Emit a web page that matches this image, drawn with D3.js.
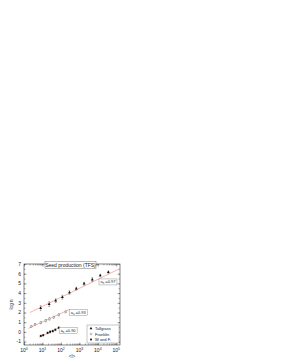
<!DOCTYPE html>
<html>
<head>
<meta charset="utf-8">
<script src="https://cdn.jsdelivr.net/npm/d3@7"></script>
<style>
  body { margin: 0; background: #fff; }
  text { font-family: "Liberation Sans", Arial, sans-serif; fill: #222; }
</style>
</head>
<body>
<svg width="281" height="364"></svg>
<script>
// series data
var tallX = [8, 23, 52, 120, 290, 680, 1800, 5000, 13500, 37000];
var tallY = [2.45, 2.87, 3.22, 3.57, 4.06, 4.45, 4.97, 5.39, 5.81, 6.16];
var tallE = [0.25, 0.25, 0.2, 0.2, 0.18, 0.15, 0.15, 0.2, 0.12, 0.12];

var frankX = [2.5, 4, 8.1, 15, 24, 41, 76, 180];
var frankY = [0.57, 0.78, 0.95, 1.16, 1.34, 1.51, 1.76, 2.07];
var frankE = [0.08, 0.08, 0.1, 0.12, 0.12, 0.1, 0.1, 0.08];

var wfX = [8.1, 11, 19, 26, 36, 50, 76];
var wfY = [-0.41, -0.34, -0.10, 0.01, 0.08, 0.22, 0.43];
var wfE = [0.08, 0.08, 0.1, 0.12, 0.1, 0.1, 0.08];

// fit lines: [x0, y0, x1, y1]
var fitTall = [2.1, 2.0, 158000, 6.53];
var fitFrank = [1.7, 0.36, 290, 2.31];
var fitWF = [6.8, -0.55, 91, 0.50];

var slopeLabels = ["0.97", "0.93", "0.90"];
var legendNames = ["Tallgrass", "Franklin", "W and F."];
var yTicks = [-1, 0, 1, 2, 3, 4, 5, 6, 7];
var xTicks = [1, 10, 100, 1000, 10000, 100000];

var svg = d3.select("svg");
var pl = 24, pr = 120, pt = 264, pb = 345;

var x = d3.scaleLog().domain([1, Math.pow(10, 5.2)]).range([pl, pr]);
var y = d3.scaleLinear().domain([-1.35, 7]).range([pb, pt]);

var g = svg.append("g");

// frame
g.append("rect").attr("x", pl).attr("y", pt)
  .attr("width", pr - pl).attr("height", pb - pt)
  .attr("fill", "none").attr("stroke", "#333").attr("stroke-width", 0.6);

// minor ticks for log axis
var minor = [];
for (var e = 0; e < 6; e++) {
  for (var k = 1; k < 10; k++) {
    var v = k * Math.pow(10, e);
    if (v <= x.domain()[1]) minor.push(v);
  }
}
var yMinor = d3.range(-1, 7, 0.5);
var axes = [
  [d3.axisBottom(x).tickValues(minor).tickSize(-1.5), 0, pb],
  [d3.axisBottom(x).tickValues(xTicks).tickSize(-2.5), 0, pb],
  [d3.axisTop(x).tickValues(minor).tickSize(-1.5), 0, pt],
  [d3.axisTop(x).tickValues(xTicks).tickSize(-2.5), 0, pt],
  [d3.axisLeft(y).tickValues(yTicks).tickSize(-2.5), pl, 0],
  [d3.axisLeft(y).tickValues(yMinor).tickSize(-1.5), pl, 0],
  [d3.axisRight(y).tickValues(yTicks).tickSize(-2.5), pr, 0],
  [d3.axisRight(y).tickValues(yMinor).tickSize(-1.5), pr, 0]
];
axes.forEach(function(a) {
  g.append("g").attr("transform", "translate(" + a[1] + "," + a[2] + ")")
    .call(a[0].tickFormat(""));
});
g.selectAll(".domain").remove();
g.selectAll(".tick line").attr("stroke", "#333").attr("stroke-width", 0.4);

// tick labels
g.selectAll(".ylab").data(yTicks).enter().append("text")
  .attr("x", pl - 3).attr("y", function(d) { return y(d) + 1.8; })
  .attr("text-anchor", "end").attr("font-size", 5).text(function(d) { return d; });

var xl = g.selectAll(".xlab").data(xTicks).enter().append("text")
  .attr("x", function(d) { return x(d); }).attr("y", pb + 7)
  .attr("text-anchor", "middle").attr("font-size", 5);
xl.append("tspan").text("10");
xl.append("tspan").attr("font-size", 3.5).attr("dy", -2)
  .text(function(d) { return Math.round(Math.log10(d)); });

svg.append("text").attr("x", (pl + pr) / 2).attr("y", pb + 12.5)
  .attr("text-anchor", "middle").attr("font-size", 4.5).text("<l>");
svg.append("text").attr("transform", "translate(13," + ((pt + pb) / 2) + ") rotate(-90)")
  .attr("text-anchor", "middle").attr("font-size", 4.5).text("log n");

// fit lines
[fitTall, fitFrank, fitWF].forEach(function(f) {
  g.append("line")
    .attr("x1", x(f[0])).attr("y1", y(f[1]))
    .attr("x2", x(Math.min(f[2], x.domain()[1]))).attr("y2", y(f[3]))
    .attr("stroke", "#f4a0a0").attr("stroke-width", 0.8);
});

// error bars + markers
function drawMarker(s, cx, cy, shape) {
  if (shape === "tri") {
    s.append("path").attr("d", d3.symbol(d3.symbolTriangle, 3.5)())
      .attr("transform", "translate(" + cx + "," + cy + ")").attr("fill", "#111");
  } else if (shape === "circ") {
    s.append("circle").attr("cx", cx).attr("cy", cy).attr("r", 0.9)
      .attr("fill", "#fff").attr("stroke", "#555").attr("stroke-width", 0.4);
  } else {
    s.append("rect").attr("x", cx - 0.9).attr("y", cy - 0.9)
      .attr("width", 1.8).attr("height", 1.8).attr("fill", "#111");
  }
}
function series(xs, ys, es, shape) {
  var s = g.append("g");
  xs.forEach(function(xv, i) {
    var cx = x(xv), yv = ys[i], er = es[i];
    s.append("line").attr("x1", cx).attr("x2", cx)
      .attr("y1", y(yv - er)).attr("y2", y(yv + er))
      .attr("stroke", "#333").attr("stroke-width", 0.35);
    [yv - er, yv + er].forEach(function(c) {
      s.append("line").attr("x1", cx - 0.9).attr("x2", cx + 0.9)
        .attr("y1", y(c)).attr("y2", y(c))
        .attr("stroke", "#333").attr("stroke-width", 0.35);
    });
    drawMarker(s, cx, y(yv), shape);
  });
}
series(tallX, tallY, tallE, "tri");
series(frankX, frankY, frankE, "circ");
series(wfX, wfY, wfE, "sq");

// slope labels (left edge and centre in data coordinates)
var labelPos = [[11500, 5.15], [280, 2.03], [80, 0.13]];
labelPos.forEach(function(p, i) {
  var bx = x(p[0]), by = y(p[1]);
  g.append("rect").attr("x", bx).attr("y", by - 3)
    .attr("width", 18).attr("height", 6)
    .attr("fill", "#fff").attr("stroke", "#777").attr("stroke-width", 0.4);
  var t = g.append("text").attr("x", bx + 1.5).attr("y", by + 1.5).attr("font-size", 4);
  t.append("tspan").text("a");
  t.append("tspan").attr("font-size", 3).attr("dy", 1).text("s");
  t.append("tspan").attr("dy", -1).text(" =" + slopeLabels[i]);
});

// title box
var title = svg.append("g");
title.append("rect").attr("x", 45).attr("y", 261.5).attr("width", 51).attr("height", 7)
  .attr("fill", "#fff").attr("stroke", "#555").attr("stroke-width", 0.4);
title.append("text").attr("x", 70.5).attr("y", 266.8).attr("text-anchor", "middle")
  .attr("font-size", 5).text("Seed production (TFS)");

// legend
var lg = svg.append("g").attr("transform", "translate(87,325)");
lg.append("rect").attr("width", 32).attr("height", 18)
  .attr("fill", "#fff").attr("stroke", "#777").attr("stroke-width", 0.4);
["tri", "circ", "sq"].forEach(function(sh, i) {
  drawMarker(lg, 4, 3.5 + i * 5.5, sh);
  lg.append("text").attr("x", 8).attr("y", 5 + i * 5.5).attr("font-size", 4).text(legendNames[i]);
});
</script>
</body>
</html>
